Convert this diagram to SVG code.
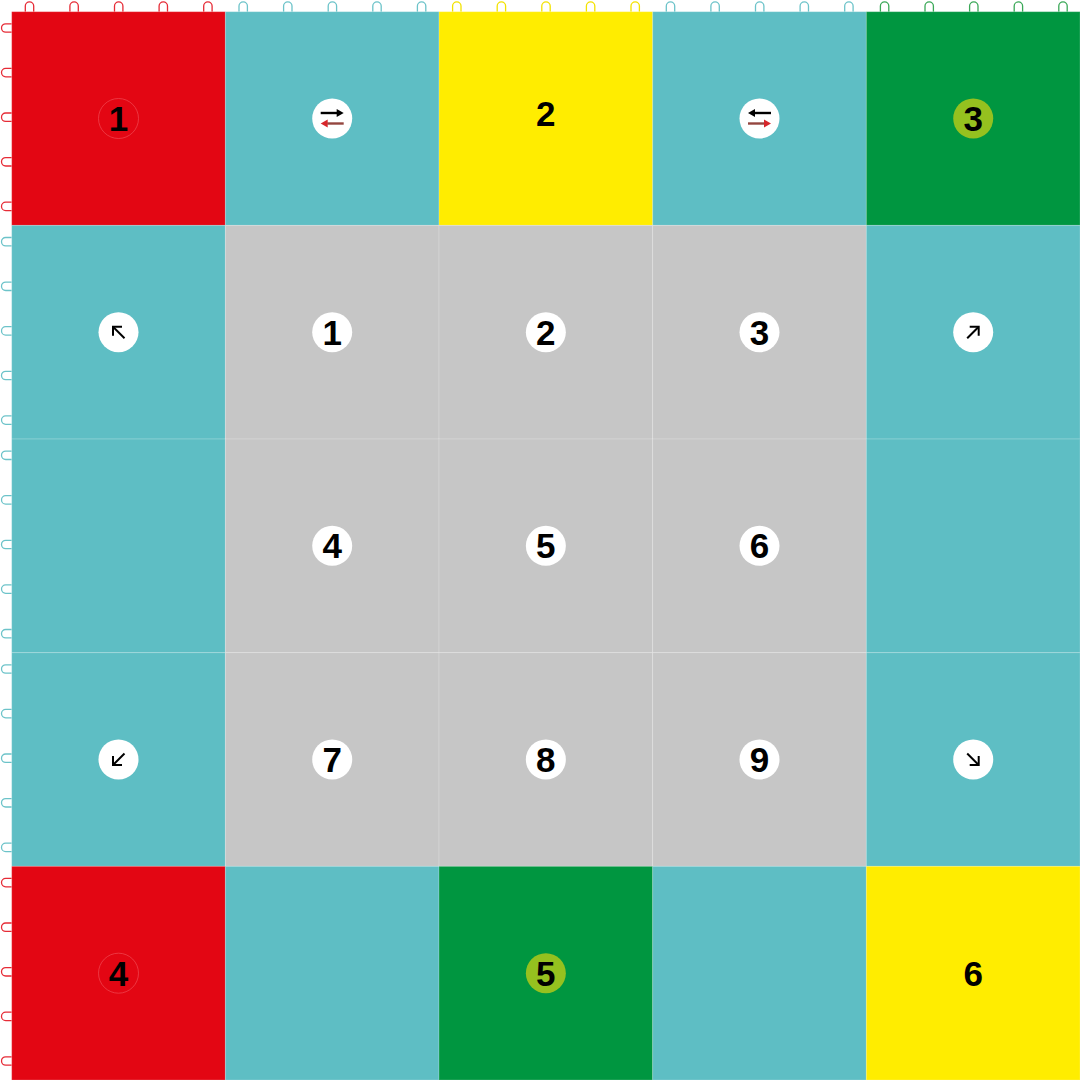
<svg xmlns="http://www.w3.org/2000/svg" xmlns:xlink="http://www.w3.org/1999/xlink" width="1080" height="1080" viewBox="0 0 1080 1080">
<style>
.t{stroke:#ffffff;stroke-opacity:.18;stroke-width:1}
.red{fill:#E30613}.teal{fill:#5EBEC4}.yel{fill:#FFED00}.grn{fill:#009640}.gry{fill:#C6C6C6}
.num{font-family:"Liberation Sans",Arial,Helvetica,sans-serif;font-weight:bold;font-size:35px;text-anchor:middle;fill:#000}
.wb{fill:#ffffff}
.lr{fill:none;stroke:#E62B36;stroke-width:1.3}
.lt{fill:none;stroke:#6CC3C9;stroke-width:1.3}
.ly{fill:none;stroke:#F3E200;stroke-width:1.3}
.lg{fill:none;stroke:#3AA857;stroke-width:1.3}
.ar{fill:none;stroke:#000;stroke-width:2;stroke-linecap:butt}
</style>
<defs>
<path id="lt" d="M-4.2,0V-5.6A4.2,4.2 0 0 1 4.2,-5.6V0"/>
<path id="ll" d="M0,-4.2H-6A4.2,4.2 0 0 0 -6,4.2H0"/>
<g id="diag">
<circle r="20" class="wb"/>
<line x1="6" y1="6" x2="-5" y2="-5" class="ar"/>
<polyline points="-5.5,3.5 -5.5,-5.5 3.5,-5.5" class="ar"/>
</g>
</defs>
<rect width="1080" height="1080" fill="#ffffff"/>

<g id="loops">
<g class="lr">
<use xlink:href="#lt" x="29.5" y="11.7"/><use xlink:href="#lt" x="74.1" y="11.7"/><use xlink:href="#lt" x="118.7" y="11.7"/><use xlink:href="#lt" x="163.3" y="11.7"/><use xlink:href="#lt" x="207.9" y="11.7"/>
<use xlink:href="#ll" x="11.7" y="28"/><use xlink:href="#ll" x="11.7" y="72.6"/><use xlink:href="#ll" x="11.7" y="117.2"/><use xlink:href="#ll" x="11.7" y="161.8"/><use xlink:href="#ll" x="11.7" y="206.4"/>
<use xlink:href="#ll" x="11.7" y="882.6"/><use xlink:href="#ll" x="11.7" y="927.2"/><use xlink:href="#ll" x="11.7" y="971.8"/><use xlink:href="#ll" x="11.7" y="1016.4"/><use xlink:href="#ll" x="11.7" y="1061"/>
</g>
<g class="lt">
<use xlink:href="#lt" x="243.2" y="11.7"/><use xlink:href="#lt" x="287.8" y="11.7"/><use xlink:href="#lt" x="332.4" y="11.7"/><use xlink:href="#lt" x="377" y="11.7"/><use xlink:href="#lt" x="421.6" y="11.7"/>
<use xlink:href="#lt" x="670.5" y="11.7"/><use xlink:href="#lt" x="715.1" y="11.7"/><use xlink:href="#lt" x="759.7" y="11.7"/><use xlink:href="#lt" x="804.3" y="11.7"/><use xlink:href="#lt" x="848.9" y="11.7"/>
<use xlink:href="#ll" x="11.7" y="241.7"/><use xlink:href="#ll" x="11.7" y="286.3"/><use xlink:href="#ll" x="11.7" y="330.9"/><use xlink:href="#ll" x="11.7" y="375.5"/><use xlink:href="#ll" x="11.7" y="420.1"/>
<use xlink:href="#ll" x="11.7" y="455.3"/><use xlink:href="#ll" x="11.7" y="499.9"/><use xlink:href="#ll" x="11.7" y="544.5"/><use xlink:href="#ll" x="11.7" y="589.1"/><use xlink:href="#ll" x="11.7" y="633.7"/>
<use xlink:href="#ll" x="11.7" y="669"/><use xlink:href="#ll" x="11.7" y="713.6"/><use xlink:href="#ll" x="11.7" y="758.2"/><use xlink:href="#ll" x="11.7" y="802.8"/><use xlink:href="#ll" x="11.7" y="847.4"/>
</g>
<g class="ly">
<use xlink:href="#lt" x="456.8" y="11.7"/><use xlink:href="#lt" x="501.4" y="11.7"/><use xlink:href="#lt" x="546" y="11.7"/><use xlink:href="#lt" x="590.6" y="11.7"/><use xlink:href="#lt" x="635.2" y="11.7"/>
</g>
<g class="lg">
<use xlink:href="#lt" x="884.6" y="11.7"/><use xlink:href="#lt" x="929.2" y="11.7"/><use xlink:href="#lt" x="973.8" y="11.7"/><use xlink:href="#lt" x="1018.4" y="11.7"/><use xlink:href="#lt" x="1063" y="11.7"/>
</g>
</g>

<!-- row 1 -->
<g id="tile-r1c1"><rect x="11.7" y="11.7" width="213.66" height="213.66" class="t red"/>
<circle cx="118.5" cy="118.5" r="20" fill="#E30613" stroke="#F04B55" stroke-width="0.7"/>
<text x="118.5" y="131" class="num">1</text></g>
<g id="tile-r1c2"><rect x="225.36" y="11.7" width="213.66" height="213.66" class="t teal"/>
<g transform="translate(332.2,118.5)">
<circle r="20" class="wb"/>
<line x1="-11.5" y1="-5.5" x2="5" y2="-5.5" stroke="#000" stroke-width="2.4"/>
<polygon points="4.5,-9.5 11.5,-5.5 4.5,-1.5" fill="#000"/>
<line x1="11.5" y1="5" x2="-5" y2="5" stroke="#94463F" stroke-width="2.4"/>
<polygon points="-4.5,1 -11.5,5 -4.5,9" fill="#D7262B"/>
</g></g>
<g id="tile-r1c3"><rect x="439.02" y="11.7" width="213.66" height="213.66" class="t yel"/>
<text x="545.85" y="126" class="num">2</text></g>
<g id="tile-r1c4"><rect x="652.68" y="11.7" width="213.66" height="213.66" class="t teal"/>
<g transform="translate(759.5,118.5)">
<circle r="20" class="wb"/>
<line x1="11.5" y1="-5.5" x2="-5" y2="-5.5" stroke="#000" stroke-width="2.4"/>
<polygon points="-4.5,-9.5 -11.5,-5.5 -4.5,-1.5" fill="#000"/>
<line x1="-11.5" y1="5" x2="5" y2="5" stroke="#94463F" stroke-width="2.4"/>
<polygon points="4.5,1 11.5,5 4.5,9" fill="#D7262B"/>
</g></g>
<g id="tile-r1c5"><rect x="866.34" y="11.7" width="213.66" height="213.66" class="t grn"/>
<circle cx="973.2" cy="118.5" r="20" fill="#95C11F"/>
<text x="973.2" y="131" class="num">3</text></g>

<!-- row 2 -->
<g id="tile-r2c1"><rect x="11.7" y="225.36" width="213.66" height="213.66" class="t teal"/>
<use xlink:href="#diag" transform="translate(118.5,332.2)"/></g>
<g id="tile-r2c2"><rect x="225.36" y="225.36" width="213.66" height="213.66" class="t gry"/>
<circle cx="332.2" cy="332.2" r="20" class="wb"/><text x="332.2" y="344.7" class="num">1</text></g>
<g id="tile-r2c3"><rect x="439.02" y="225.36" width="213.66" height="213.66" class="t gry"/>
<circle cx="545.85" cy="332.2" r="20" class="wb"/><text x="545.85" y="344.7" class="num">2</text></g>
<g id="tile-r2c4"><rect x="652.68" y="225.36" width="213.66" height="213.66" class="t gry"/>
<circle cx="759.5" cy="332.2" r="20" class="wb"/><text x="759.5" y="344.7" class="num">3</text></g>
<g id="tile-r2c5"><rect x="866.34" y="225.36" width="213.66" height="213.66" class="t teal"/>
<use xlink:href="#diag" transform="translate(973.2,332.2) rotate(90)"/></g>

<!-- row 3 -->
<g id="tile-r3c1"><rect x="11.7" y="439.02" width="213.66" height="213.66" class="t teal"/></g>
<g id="tile-r3c2"><rect x="225.36" y="439.02" width="213.66" height="213.66" class="t gry"/>
<circle cx="332.2" cy="545.85" r="20" class="wb"/><text x="332.2" y="558.35" class="num">4</text></g>
<g id="tile-r3c3"><rect x="439.02" y="439.02" width="213.66" height="213.66" class="t gry"/>
<circle cx="545.85" cy="545.85" r="20" class="wb"/><text x="545.85" y="558.35" class="num">5</text></g>
<g id="tile-r3c4"><rect x="652.68" y="439.02" width="213.66" height="213.66" class="t gry"/>
<circle cx="759.5" cy="545.85" r="20" class="wb"/><text x="759.5" y="558.35" class="num">6</text></g>
<g id="tile-r3c5"><rect x="866.34" y="439.02" width="213.66" height="213.66" class="t teal"/></g>

<!-- row 4 -->
<g id="tile-r4c1"><rect x="11.7" y="652.68" width="213.66" height="213.66" class="t teal"/>
<use xlink:href="#diag" transform="translate(118.5,759.5) rotate(270)"/></g>
<g id="tile-r4c2"><rect x="225.36" y="652.68" width="213.66" height="213.66" class="t gry"/>
<circle cx="332.2" cy="759.5" r="20" class="wb"/><text x="332.2" y="772" class="num">7</text></g>
<g id="tile-r4c3"><rect x="439.02" y="652.68" width="213.66" height="213.66" class="t gry"/>
<circle cx="545.85" cy="759.5" r="20" class="wb"/><text x="545.85" y="772" class="num">8</text></g>
<g id="tile-r4c4"><rect x="652.68" y="652.68" width="213.66" height="213.66" class="t gry"/>
<circle cx="759.5" cy="759.5" r="20" class="wb"/><text x="759.5" y="772" class="num">9</text></g>
<g id="tile-r4c5"><rect x="866.34" y="652.68" width="213.66" height="213.66" class="t teal"/>
<use xlink:href="#diag" transform="translate(973.2,759.5) rotate(180)"/></g>

<!-- row 5 -->
<g id="tile-r5c1"><rect x="11.7" y="866.34" width="213.66" height="213.66" class="t red"/>
<circle cx="118.5" cy="973.2" r="20" fill="#E30613" stroke="#F04B55" stroke-width="0.7"/>
<text x="118.5" y="985.7" class="num">4</text></g>
<g id="tile-r5c2"><rect x="225.36" y="866.34" width="213.66" height="213.66" class="t teal"/></g>
<g id="tile-r5c3"><rect x="439.02" y="866.34" width="213.66" height="213.66" class="t grn"/>
<circle cx="545.85" cy="973.2" r="20" fill="#95C11F"/>
<text x="545.85" y="985.7" class="num">5</text></g>
<g id="tile-r5c4"><rect x="652.68" y="866.34" width="213.66" height="213.66" class="t teal"/></g>
<g id="tile-r5c5"><rect x="866.34" y="866.34" width="213.66" height="213.66" class="t yel"/>
<text x="973.2" y="985.7" class="num">6</text></g>

<g id="connectors"/>
</svg>
